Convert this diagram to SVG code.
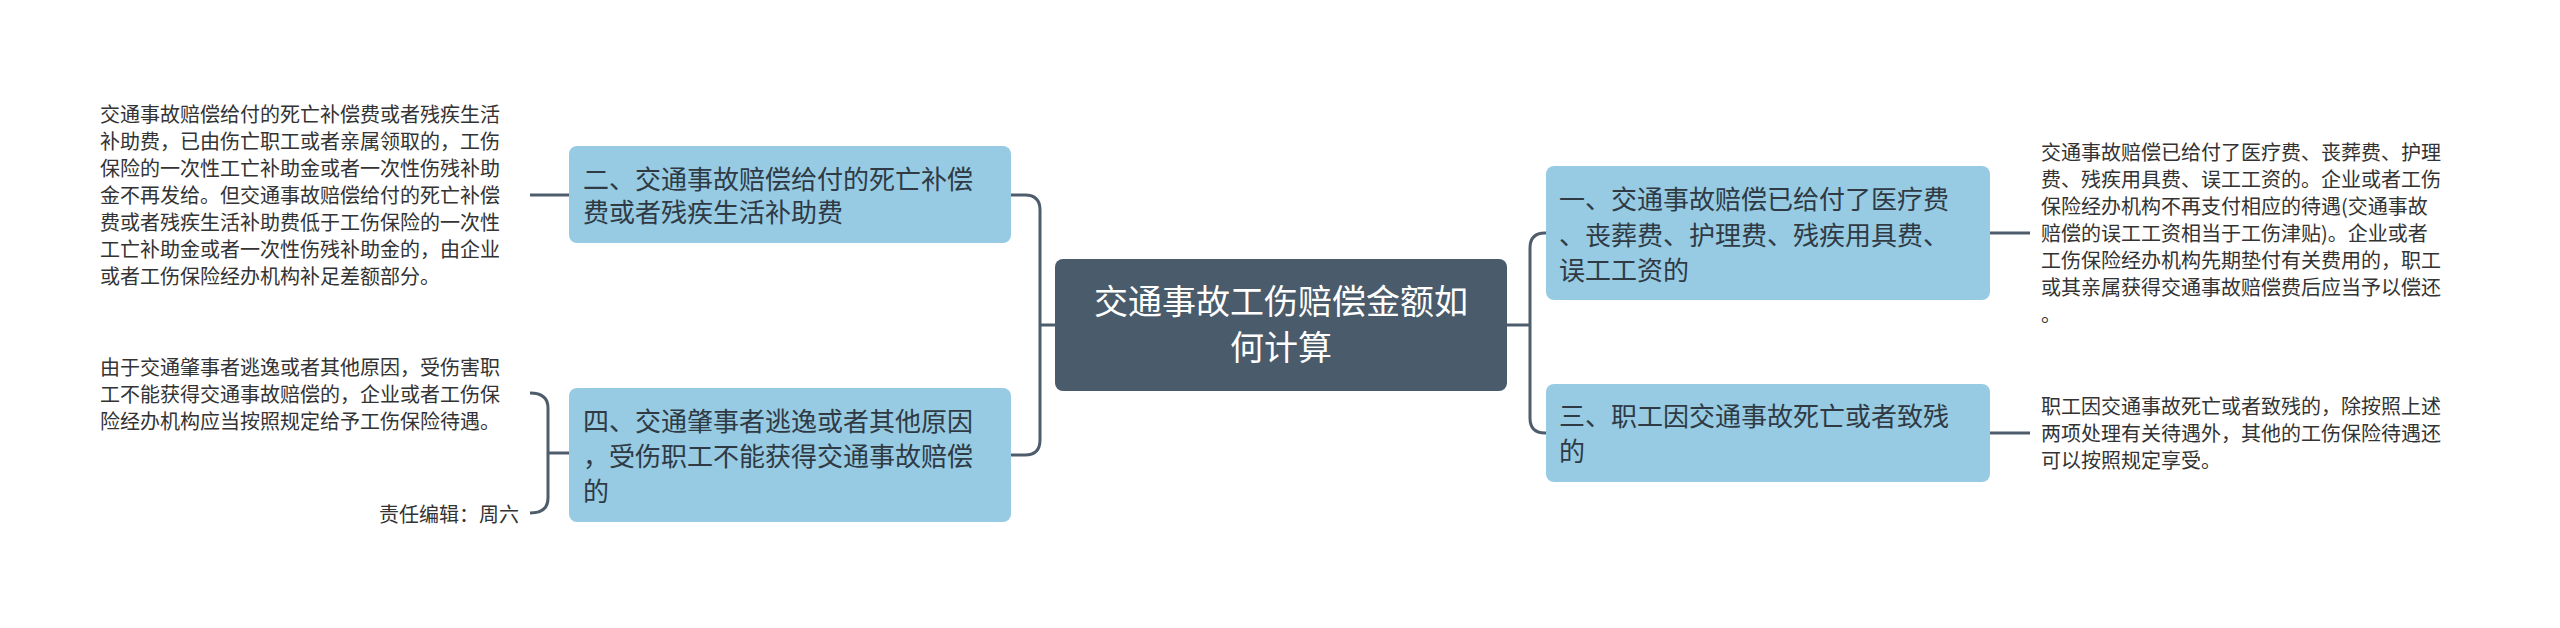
<svg xmlns="http://www.w3.org/2000/svg" width="2560" height="628" viewBox="0 0 2560 628">
<style>
.n{fill:#96cbe3}
.nt{font-family:"Noto Sans CJK SC",sans-serif;font-size:26px;fill:#2f3a44}
.ct{font-family:"Noto Sans CJK SC",sans-serif;font-size:34px;fill:#ffffff}
.t{font-family:"Noto Sans CJK SC",sans-serif;font-size:20px;fill:#333333}
.c{fill:none;stroke:#4e5d6b;stroke-width:3}
</style>
<rect width="2560" height="628" fill="#ffffff"/>
<g id="connectors">
<path class="c" d="M1055 325 H1040 M1040 325 V210 Q1040 195 1025 195 H1011 M1040 325 V440 Q1040 455 1025 455 H1011"/>
<path class="c" d="M1506 325 H1530 M1530 325 V248 Q1530 233 1545 233 H1548 M1530 325 V418 Q1530 433 1545 433 H1548"/>
<path class="c" d="M1990 233 H2030 M1990 433 H2030"/>
<path class="c" d="M569 195 H530"/>
<path class="c" d="M569 453 H548 M530 393 Q548 393 548 408 V498 Q548 513 530 513"/>
</g>
<g id="center">
<rect x="1055" y="259" width="452" height="132" rx="8" fill="#4a5b6b"/>
<text class="ct" text-anchor="middle" x="1281" y="314">交通事故工伤赔偿金额如</text>
<text class="ct" text-anchor="middle" x="1281" y="360">何计算</text>
</g>
<g id="n1">
<rect class="n" x="1546" y="166" width="444" height="134" rx="8"/>
<text class="nt" x="1559" y="209">一、交通事故赔偿已给付了医疗费</text>
<text class="nt" x="1559" y="245">、丧葬费、护理费、残疾用具费、</text>
<text class="nt" x="1559" y="280">误工工资的</text>
</g>
<g id="n3">
<rect class="n" x="1546" y="384" width="444" height="98" rx="8"/>
<text class="nt" x="1559" y="426">三、职工因交通事故死亡或者致残</text>
<text class="nt" x="1559" y="461">的</text>
</g>
<g id="n2">
<rect class="n" x="569" y="146" width="442" height="97" rx="8"/>
<text class="nt" x="583" y="189">二、交通事故赔偿给付的死亡补偿</text>
<text class="nt" x="583" y="222">费或者残疾生活补助费</text>
</g>
<g id="n4">
<rect class="n" x="569" y="388" width="442" height="134" rx="8"/>
<text class="nt" x="583" y="431">四、交通肇事者逃逸或者其他原因</text>
<text class="nt" x="583" y="466">，受伤职工不能获得交通事故赔偿</text>
<text class="nt" x="583" y="501">的</text>
</g>
<g id="t1">
<text class="t" x="2041" y="160">交通事故赔偿已给付了医疗费、丧葬费、护理</text>
<text class="t" x="2041" y="187">费、残疾用具费、误工工资的。企业或者工伤</text>
<text class="t" x="2041" y="214">保险经办机构不再支付相应的待遇(交通事故</text>
<text class="t" x="2041" y="241">赔偿的误工工资相当于工伤津贴)。企业或者</text>
<text class="t" x="2041" y="268">工伤保险经办机构先期垫付有关费用的，职工</text>
<text class="t" x="2041" y="295">或其亲属获得交通事故赔偿费后应当予以偿还</text>
<text class="t" x="2041" y="322">。</text>
</g>
<g id="t3">
<text class="t" x="2041" y="414">职工因交通事故死亡或者致残的，除按照上述</text>
<text class="t" x="2041" y="441">两项处理有关待遇外，其他的工伤保险待遇还</text>
<text class="t" x="2041" y="468">可以按照规定享受。</text>
</g>
<g id="t2">
<text class="t" x="100" y="122">交通事故赔偿给付的死亡补偿费或者残疾生活</text>
<text class="t" x="100" y="149">补助费，已由伤亡职工或者亲属领取的，工伤</text>
<text class="t" x="100" y="176">保险的一次性工亡补助金或者一次性伤残补助</text>
<text class="t" x="100" y="203">金不再发给。但交通事故赔偿给付的死亡补偿</text>
<text class="t" x="100" y="230">费或者残疾生活补助费低于工伤保险的一次性</text>
<text class="t" x="100" y="257">工亡补助金或者一次性伤残补助金的，由企业</text>
<text class="t" x="100" y="284">或者工伤保险经办机构补足差额部分。</text>
</g>
<g id="t4">
<text class="t" x="100" y="375">由于交通肇事者逃逸或者其他原因，受伤害职</text>
<text class="t" x="100" y="402">工不能获得交通事故赔偿的，企业或者工伤保</text>
<text class="t" x="100" y="429">险经办机构应当按照规定给予工伤保险待遇。</text>
</g>
<g id="editor">
<text class="t" x="519" y="522" text-anchor="end">责任编辑：周六</text>
</g>
</svg>
